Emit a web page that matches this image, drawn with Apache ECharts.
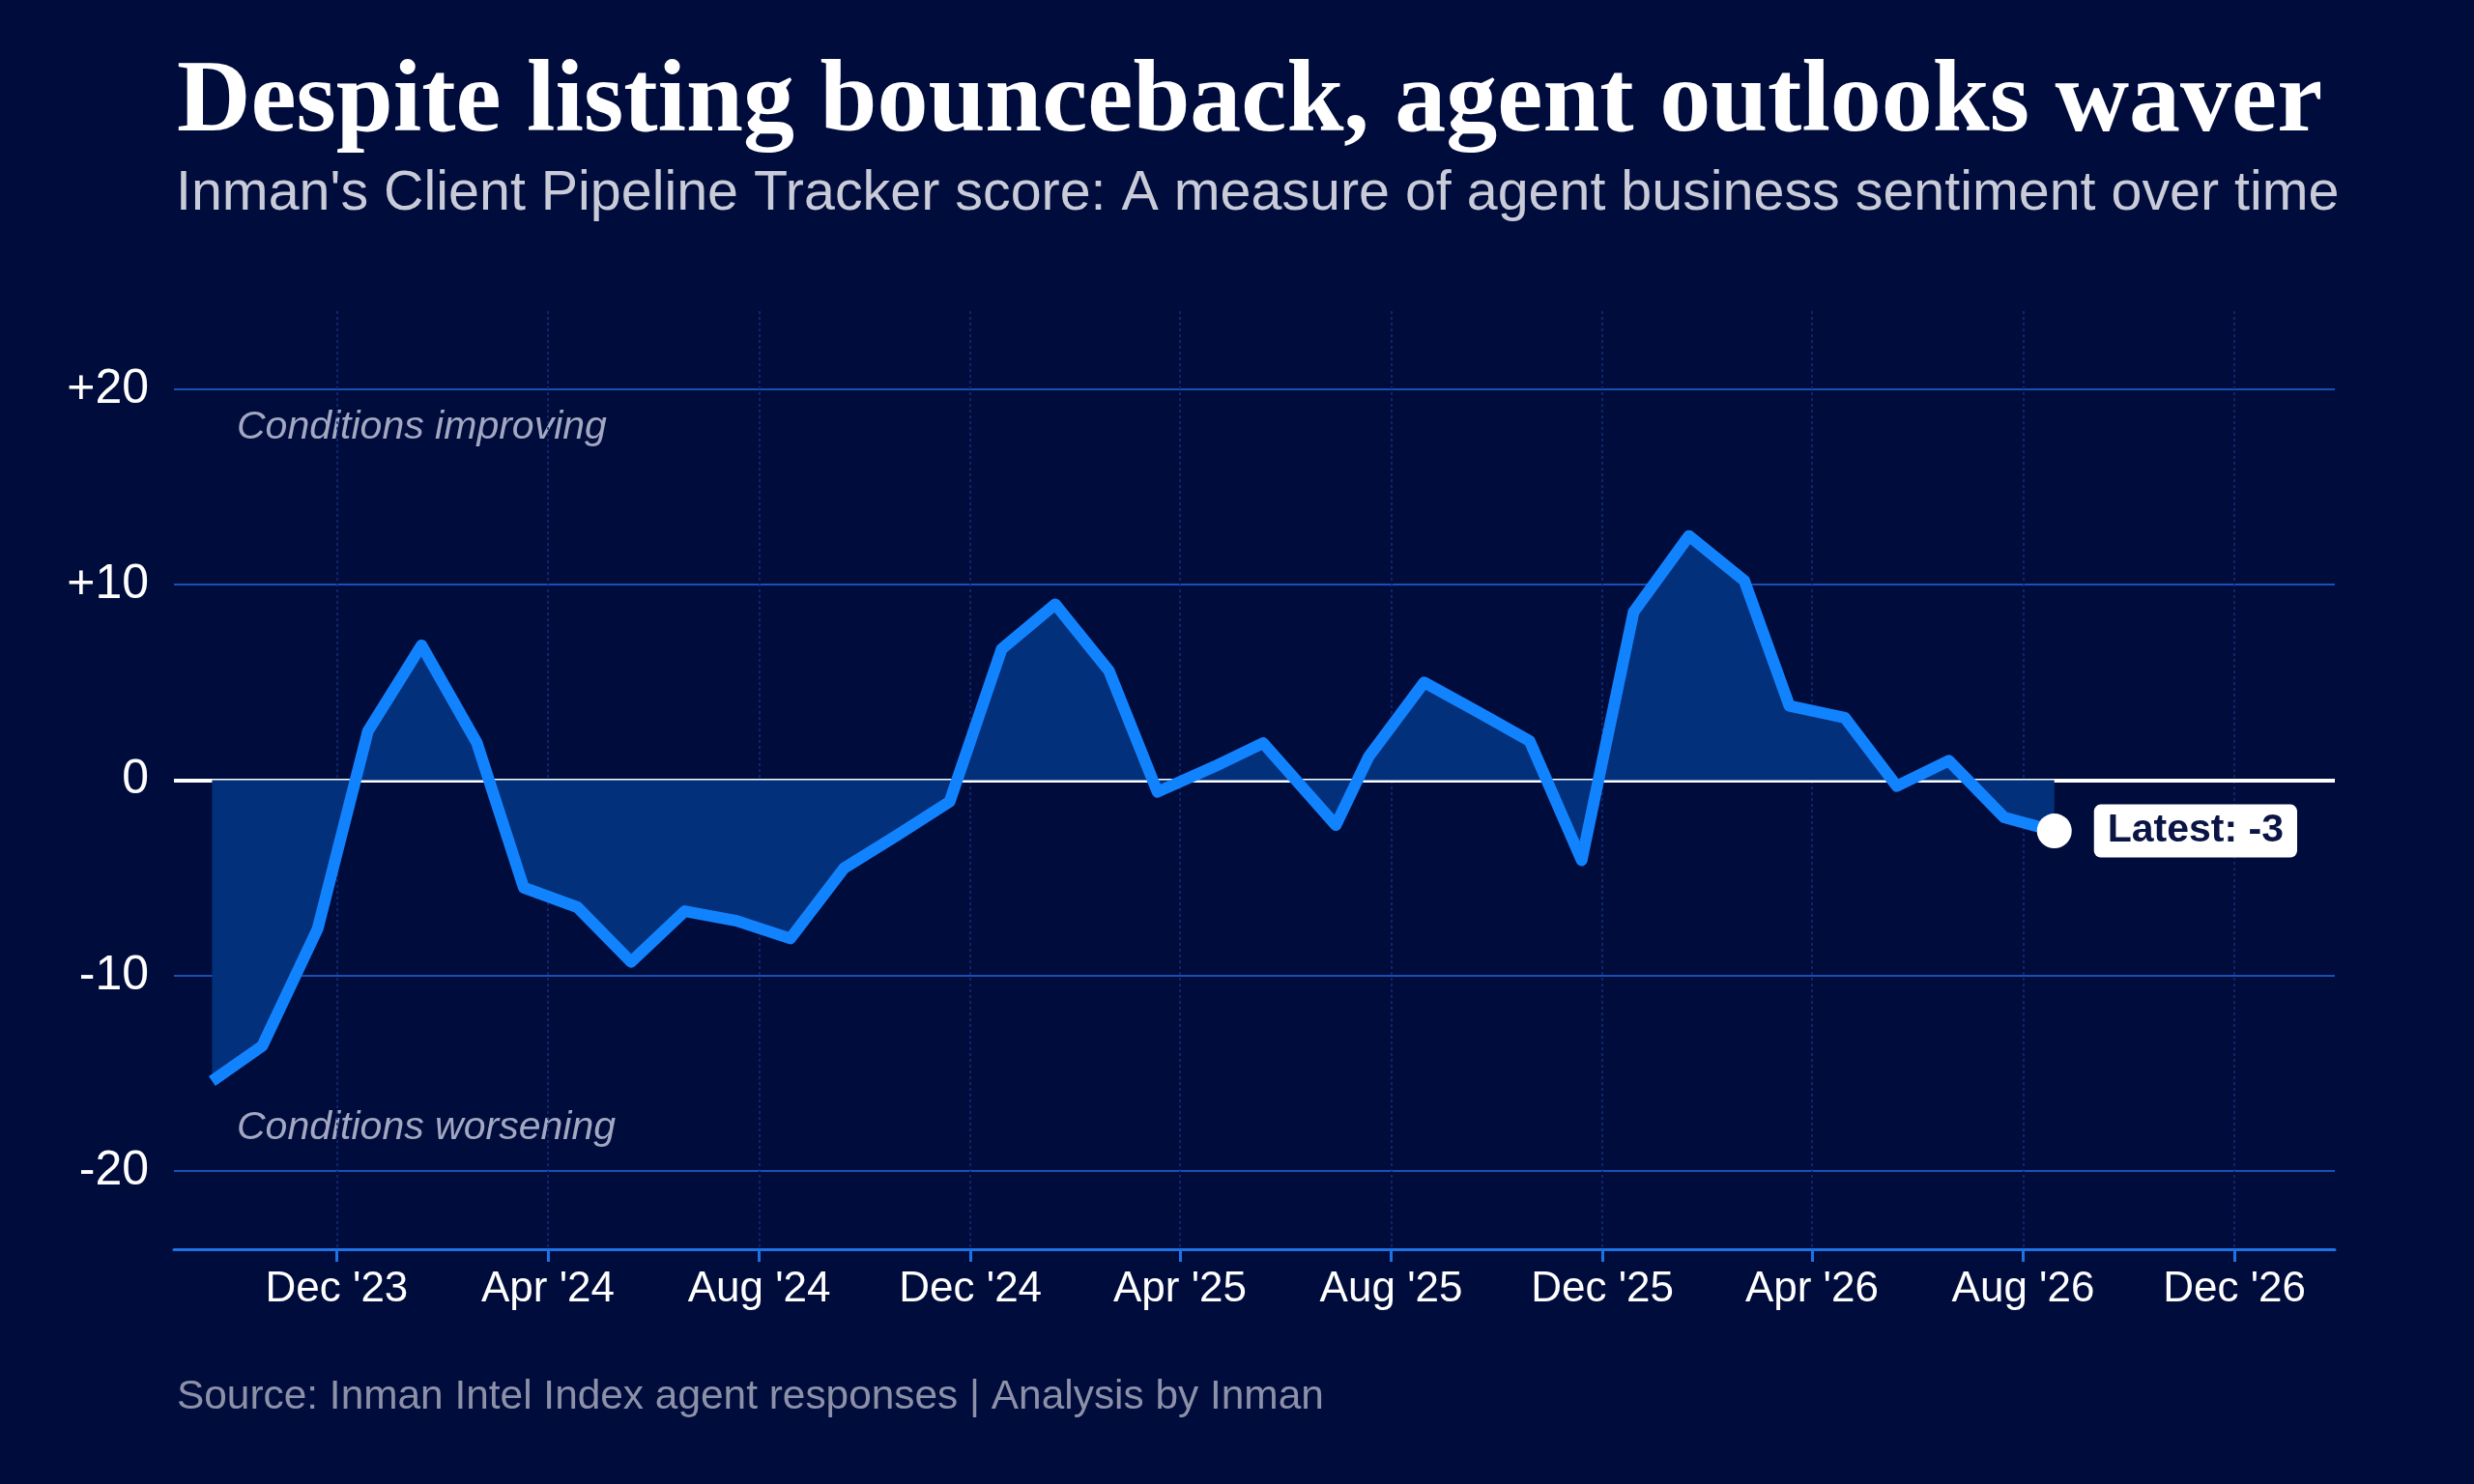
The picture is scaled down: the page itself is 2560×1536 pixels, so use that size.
<!DOCTYPE html>
<html>
<head>
<meta charset="utf-8">
<style>
  html, body { margin: 0; padding: 0; background: #000c3c; }
  #chart { width: 2560px; height: 1536px; }
</style>
<script src="https://cdn.jsdelivr.net/npm/echarts@6/dist/echarts.min.js"></script>
</head>
<body>
<div id="chart"></div>
<script>
// survey dates and tracker scores
var surveyDates = [
  '2023-09-20', '2023-10-19', '2023-11-20', '2023-12-19', '2024-01-19', '2024-02-20',
  '2024-03-18', '2024-04-18', '2024-05-19', '2024-06-19', '2024-07-19', '2024-08-19',
  '2024-09-19', '2024-10-20', '2024-11-19', '2024-12-19', '2025-01-19', '2025-02-19',
  '2025-03-19', '2025-04-21', '2025-05-19', '2025-06-30', '2025-07-19', '2025-08-20',
  '2025-09-20', '2025-10-20', '2025-11-19', '2025-12-19', '2026-01-20', '2026-02-21',
  '2026-03-19', '2026-04-20', '2026-05-20', '2026-06-19', '2026-07-21', '2026-08-19'
];
var scores = [
  -15.4, -13.6, -7.6, 2.5, 6.9, 1.9,
  -5.5, -6.5, -9.3, -6.7, -7.2, -8.1,
  -4.5, -2.8, -1.1, 6.7, 9.0, 5.6,
  -0.6, 0.7, 1.9, -2.3, 1.2, 5.0,
  3.5, 2.0, -4.1, 8.6, 12.5, 10.2,
  3.8, 3.2, -0.3, 1.0, -1.9, -2.6
];
var xTickDates = [
  '2023-12-01', '2024-04-01', '2024-08-01', '2024-12-01', '2025-04-01',
  '2025-08-01', '2025-12-01', '2026-04-01', '2026-08-01', '2026-12-01'
];
var yTicks = [-20, -10, 0, 10, 20];
var monthNames = ['Jan', 'Feb', 'Mar', 'Apr', 'May', 'Jun', 'Jul', 'Aug', 'Sep', 'Oct', 'Nov', 'Dec'];

function toTime(s) {
  var p = s.split('-').map(Number);
  return new Date(p[0], p[1] - 1, p[2]).getTime();
}

var lineData = surveyDates.map(function (d, i) { return [toTime(d), scores[i]]; });
var last = lineData[lineData.length - 1];
var xTicks = xTickDates.map(toTime);

var sans = 'Liberation Sans, Arial, Helvetica, sans-serif';

var myChart = echarts.init(document.getElementById('chart'));
var option = {
  backgroundColor: '#000c3c',
  animation: false,
  title: [
    {
      text: 'Despite listing bounceback, agent outlooks waver',
      left: 178, top: 50,
      textStyle: { color: '#ffffff', fontFamily: 'Liberation Serif, serif', fontWeight: 'bold', fontSize: 106 }
    },
    {
      text: "Inman's Client Pipeline Tracker score: A measure of agent business sentiment over time",
      left: 177, top: 168,
      textStyle: { color: '#c9ccd8', fontFamily: sans, fontWeight: 'normal', fontSize: 57.4 }
    },
    {
      text: 'Source: Inman Intel Index agent responses | Analysis by Inman',
      left: 178, top: 1420,
      textStyle: { color: '#8c91a8', fontFamily: sans, fontWeight: 'normal', fontSize: 42.4 }
    }
  ],
  graphic: [
    {
      type: 'text', left: 245, top: 422,
      style: { text: 'Conditions improving', fill: '#a3a8c2', font: 'italic 41px ' + sans }
    },
    {
      type: 'text', left: 245, top: 1147,
      style: { text: 'Conditions worsening', fill: '#a3a8c2', font: 'italic 41px ' + sans }
    }
  ],
  grid: { left: 180, right: 144, top: 322, bottom: 243 },
  xAxis: {
    type: 'value',
    min: toTime('2023-08-29'),
    max: toTime('2027-01-28'),
    axisLine: { show: true, onZero: false, lineStyle: { color: '#1f72e6', width: 3 } },
    axisTick: { show: true, customValues: xTicks, length: 13, lineStyle: { color: '#1f72e6', width: 3 } },
    axisLabel: {
      customValues: xTicks,
      color: '#ffffff', fontFamily: sans, fontSize: 44, margin: 20,
      formatter: function (v) {
        var d = new Date(v);
        return monthNames[d.getMonth()] + " '" + String(d.getFullYear()).slice(2);
      }
    },
    splitLine: { show: true, lineStyle: { color: '#142c78', width: 1.5, type: [3, 3] } }
  },
  yAxis: {
    type: 'value',
    min: -24,
    max: 24,
    axisLine: { show: false },
    axisTick: { show: false, customValues: yTicks },
    axisLabel: {
      customValues: yTicks,
      color: '#ffffff', fontFamily: sans, fontSize: 50, margin: 26,
      formatter: function (v) { return v > 0 ? '+' + v : String(v); }
    },
    splitLine: { show: true, lineStyle: { color: '#1a50b4', width: 2 } }
  },
  series: [
    {
      type: 'line',
      data: lineData,
      showSymbol: false,
      lineStyle: { color: '#1283ff', width: 12, join: 'round' },
      areaStyle: { color: '#03307a', opacity: 1 },
      markLine: {
        silent: true,
        symbol: 'none',
        label: { show: false },
        lineStyle: { color: '#ffffff', width: 4, type: 'solid' },
        data: [{ yAxis: 0 }],
        z: 1
      },
      z: 3
    },
    {
      type: 'scatter',
      data: [last],
      symbol: 'circle',
      symbolSize: 36,
      itemStyle: { color: '#ffffff', opacity: 1 },
      label: {
        show: true,
        position: 'right',
        distance: 23,
        formatter: function (p) { return 'Latest: ' + Math.round(p.value[1]); },
        backgroundColor: '#ffffff',
        borderRadius: 7,
        padding: [8, 14, 6, 14],
        color: '#0a1445',
        fontFamily: sans,
        fontWeight: 'bold',
        fontSize: 41
      },
      z: 5
    }
  ]
};
myChart.setOption(option);
</script>
</body>
</html>
